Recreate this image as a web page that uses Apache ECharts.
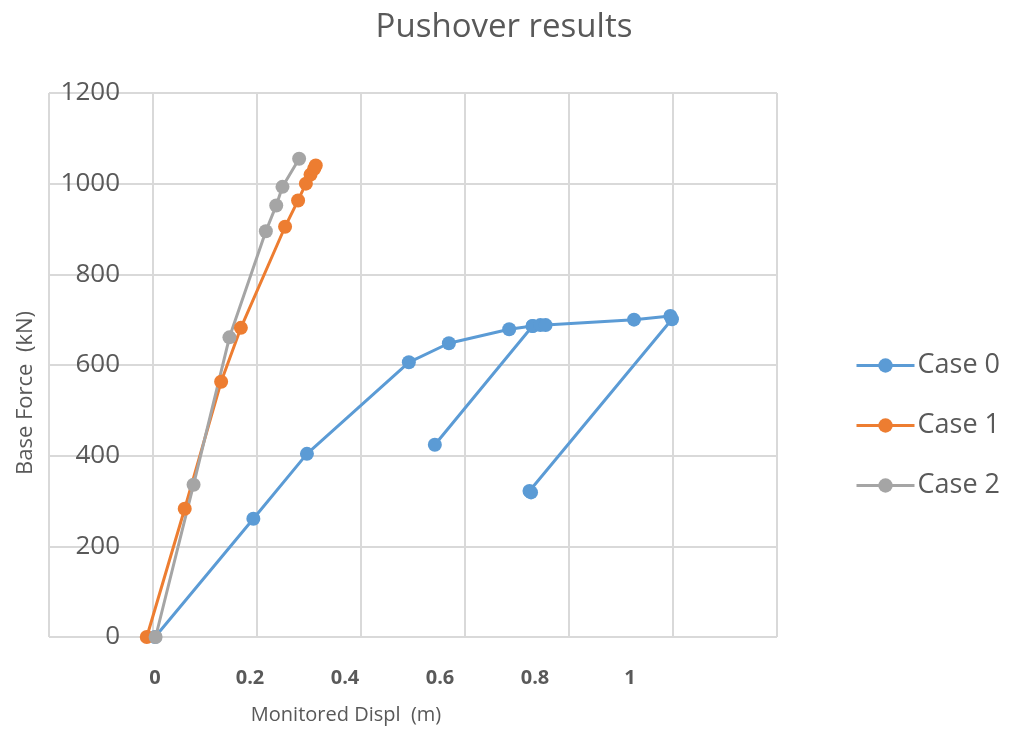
<!DOCTYPE html>
<html>
<head>
<meta charset="utf-8">
<script src="https://cdn.jsdelivr.net/npm/echarts@6/dist/echarts.min.js"></script>
<style>
  html, body { margin: 0; padding: 0; background: #ffffff; }
  #chart { width: 1011px; height: 730px; }
</style>
</head>
<body>
<div id="chart"></div>
<script>
// Pushover curves: base force vs monitored displacement
const case0Disp  = [0.004, 0.193, 0.296, 0.492, 0.569, 0.685, 0.730, 0.542, 0.730, 0.745, 0.755, 0.925, 0.995, 0.998, 0.724, 0.727];
const case0Force = [0, 261, 404, 606, 648, 679, 686, 424, 686, 688, 688, 700, 708, 701, 322, 319];

const case1Disp  = [-0.012, 0.061, 0.131, 0.169, 0.254, 0.279, 0.294, 0.303, 0.310, 0.313];
const case1Force = [0, 283, 563, 682, 905, 963, 1000, 1020, 1033, 1040];

const case2Disp  = [0.005, 0.078, 0.147, 0.217, 0.237, 0.249, 0.281];
const case2Force = [0, 336, 661, 895, 952, 993, 1055];

const seriesNames = ['Case 0', 'Case 1', 'Case 2'];
const seriesColors = ['#5B9BD5', '#ED7D31', '#A5A5A5'];
const xTickLabels = [0, 0.2, 0.4, 0.6, 0.8, 1];

const FONT = 'Open Sans';
const TEXT = '#595959';
const GRID_LINE = '#D9D9D9';

function pairs(xs, ys) {
  return xs.map((x, i) => [x, ys[i]]);
}

const chart = echarts.init(document.getElementById('chart'), null, { renderer: 'canvas' });

const seriesData = [pairs(case0Disp, case0Force), pairs(case1Disp, case1Force), pairs(case2Disp, case2Force)];

chart.setOption({
  animation: false,
  backgroundColor: '#ffffff',
  textStyle: { fontFamily: FONT },
  title: {
    text: 'Pushover results',
    left: 499,
    top: 6,
    textAlign: 'center',
    textStyle: { fontFamily: FONT, fontSize: 33, fontWeight: 'normal', color: TEXT }
  },
  legend: {
    orient: 'vertical',
    left: 855,
    top: 352,
    padding: 0,
    itemWidth: 58,
    itemHeight: 18,
    itemGap: 33,
    data: seriesNames,
    lineStyle: { width: 3 },
    textStyle: { fontFamily: FONT, fontSize: 27, color: TEXT, lineHeight: 22, padding: [0, 0, 0, -2] }
  },
  grid: { left: 49, top: 93, right: 234, bottom: 91, containLabel: false },
  xAxis: [
    {
      type: 'value',
      min: -0.2,
      max: 1.2,
      interval: 0.2,
      position: 'bottom',
      name: 'Monitored Displ  (m)',
      nameLocation: 'middle',
      nameGap: 68,
      nameTextStyle: { fontFamily: FONT, fontSize: 20, color: TEXT, padding: [0, 134, 0, 0] },
      axisLine: { show: false },
      axisTick: { show: false },
      axisLabel: { show: false },
      splitLine: { show: true, lineStyle: { color: GRID_LINE, width: 2 } }
    },
    {
      // tick labels for the displacement axis
      type: 'value',
      min: -0.2232,
      max: 1.3095,
      position: 'bottom',
      axisLine: { show: false },
      axisTick: { show: false },
      splitLine: { show: false },
      axisLabel: {
        customValues: xTickLabels,
        margin: 31,
        fontFamily: FONT,
        fontSize: 20,
        fontWeight: 'bold',
        color: TEXT,
        formatter: v => String(v)
      }
    }
  ],
  yAxis: {
    type: 'value',
    min: 0,
    max: 1200,
    interval: 200,
    name: 'Base Force  (kN)',
    nameLocation: 'middle',
    nameGap: 12,
    nameTextStyle: { fontFamily: FONT, fontSize: 22, color: TEXT, padding: [0, 56, 0, 0] },
    axisLine: { show: false },
    axisTick: { show: false },
    axisLabel: { margin: -71, align: 'right', fontFamily: FONT, fontSize: 26, color: TEXT, formatter: v => String(v) },
    splitLine: { show: true, lineStyle: { color: GRID_LINE, width: 2 } }
  },
  series: seriesNames.map((name, i) => ({
    name: name,
    type: 'line',
    xAxisIndex: 0,
    data: seriesData[i],
    symbol: 'circle',
    symbolSize: 14,
    showAllSymbol: true,
    color: seriesColors[i],
    lineStyle: { width: 3, color: seriesColors[i] },
    itemStyle: { color: seriesColors[i] }
  }))
});
</script>
</body>
</html>
